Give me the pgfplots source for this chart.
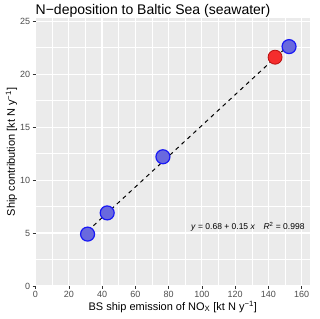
\documentclass[border=0pt]{standalone}
\usepackage{fontspec}
\setmainfont{Liberation Sans}
\usepackage{pgfplots}
\pgfplotsset{compat=1.18}
\definecolor{panel}{RGB}{235,235,235}
\definecolor{bfill}{RGB}{105,105,222}
\definecolor{bdraw}{RGB}{25,25,245}
\definecolor{rfill}{RGB}{245,45,45}
\definecolor{rdraw}{RGB}{185,15,15}
\begin{document}
\begin{tikzpicture}
\useasboundingbox (-35.5pt,-32pt) rectangle (284.5pt,286pt);
\begin{axis}[
  at={(0pt,0pt)}, anchor=south west,
  scale only axis, width=274.5pt, height=268pt,
  xmin=0, xmax=165, ymin=0, ymax=25.3,
  axis background/.style={fill=panel},
  axis line style={draw=none},
  xtick={0,20,...,160}, ytick={0,5,...,25},
  minor xtick={10,30,...,150}, minor ytick={2.5,7.5,...,22.5},
  grid=both,
  major grid style={white, line width=1.1pt},
  minor grid style={white, line width=0.5pt},
  tick pos=left,
  tick align=outside, major tick length=2.75pt, minor tick length=0pt,
  tick style={black!80, line width=0.5pt},
  /pgf/number format/assume math mode=true,
  ticklabel style={font=\fontsize{9}{10}\selectfont, text=black!70},
  xticklabel style={yshift=1pt},
  yticklabel style={xshift=1pt},
  title={N\textminus deposition to Baltic Sea (seawater)},
  title style={at={(axis description cs:0,1)}, anchor=base west, yshift=-3pt, inner sep=0pt, font=\fontsize{14}{16}\selectfont},
  xlabel={BS ship emission of NO\textsubscript{X} [kt N y\textsuperscript{\textminus 1}]},
  ylabel={Ship contribution [kt N y\textsuperscript{\textminus 1}]},
  xlabel style={at={(axis description cs:0.5,-0.0896)}, anchor=base, inner sep=0pt, font=\fontsize{11}{12}\selectfont},
  ylabel style={at={(axis description cs:-0.0747,0.5)}, anchor=base, inner sep=0pt, font=\fontsize{11}{12}\selectfont},
  clip=false,
]
\addplot[black, line width=1pt, dash pattern=on 4pt off 4pt] coordinates {(31.3,5.18) (152.4,22.76)};
\addplot[only marks, mark=*, mark size=7pt, mark options={fill=bfill, draw=bdraw, line width=1.2pt}] coordinates {
(31.3,4.9) (43.1,6.9) (76.6,12.2) (152.4,22.6)};
\addplot[only marks, mark=*, mark size=7pt, mark options={fill=rfill, draw=rdraw, line width=0.8pt}] coordinates {
(144,21.6)};
\node[font=\fontsize{8.5}{10}\selectfont, text=black] at (axis cs:127.6,5.57) {\textit{y} = 0.68 + 0.15 \textit{x}\quad \textit{R}\textsuperscript{2} = 0.998};
\end{axis}
\end{tikzpicture}
\end{document}
